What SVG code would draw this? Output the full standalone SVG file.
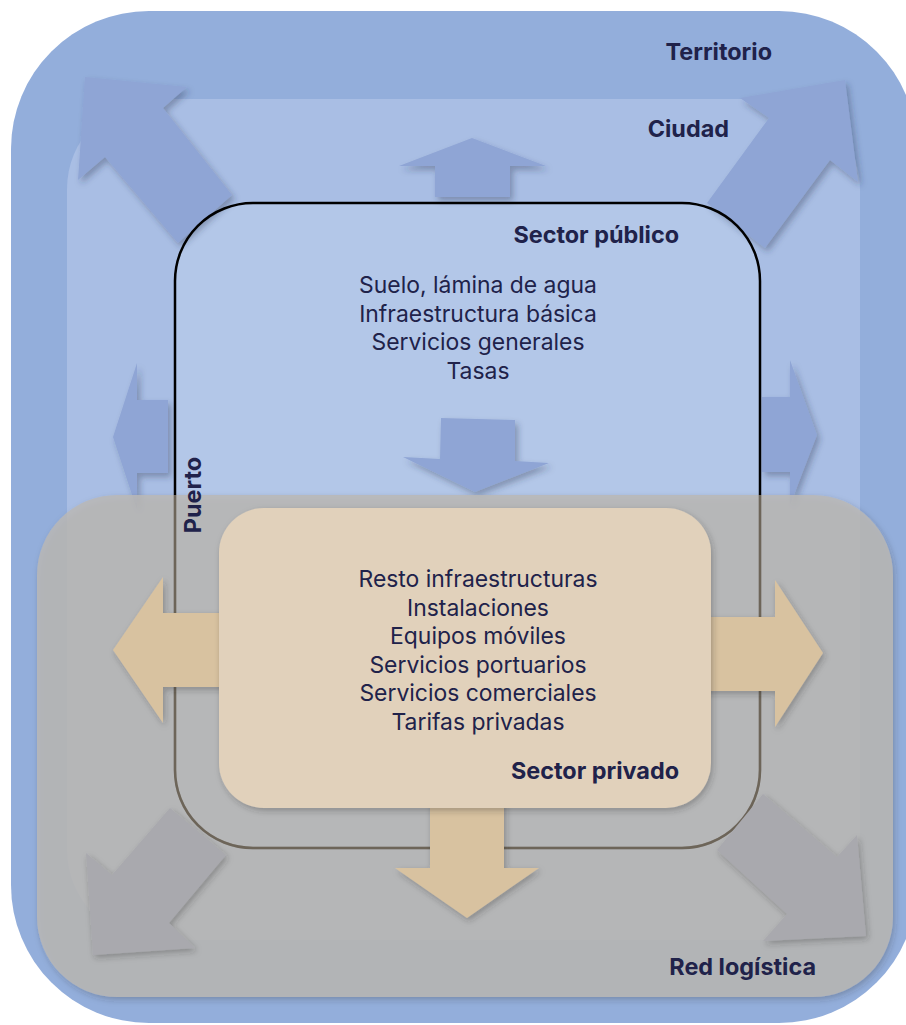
<svg xmlns="http://www.w3.org/2000/svg" width="906" height="1025" viewBox="0 0 906 1025">
<defs>
<filter id="sh" x="-20%" y="-20%" width="150%" height="150%">
<feDropShadow dx="3" dy="4" stdDeviation="3" flood-color="#2a3150" flood-opacity="0.35"/>
</filter>
<filter id="shs" x="-10%" y="-10%" width="130%" height="130%">
<feDropShadow dx="2" dy="3" stdDeviation="3" flood-color="#333" flood-opacity="0.3"/>
</filter>
<clipPath id="low"><rect x="0" y="495" width="906" height="530"/></clipPath>
<style>
.lbl{font-family:Inter,"Liberation Sans",sans-serif;font-weight:700;font-size:23.4px;fill:#20224a}
.txt{font-family:Inter,"Liberation Sans",sans-serif;font-size:22.9px;fill:#20224a;text-anchor:middle}
.ba{fill:#8fa5d5;filter:url(#sh)}
.ga{fill:#a9a9ae;filter:url(#shs)}
.pa{fill:#d8c2a0;filter:url(#shs)}
</style>
</defs>
<g id="territorio">
<rect x="11" y="11" width="906" height="1012" rx="138" fill="#93aedb"/>
</g>
<g id="ciudad">
<rect x="67" y="99" width="793" height="841" rx="90" fill="#a9bee4"/>
</g>
<g id="puerto-fill">
<rect x="175" y="203" width="585" height="645" rx="78" fill="#b3c7e8"/>
</g>
<g id="connectors-blue">
<polygon class="ba" points="85,77 187,87 163,108 232,195 178,243 105,157 78,180"/>
<polygon class="ba" points="845,80 740,98 769,118 707,203 765,248 830,160 858,182"/>
<polygon class="ba" points="472,138 546,166 510,166 510,197 435,197 435,166 399,166"/>
<polygon class="ba" points="113,437 137,363 137,400 168,400 168,473 137,473 137,510"/>
<polygon class="ba" points="817,435 790,360 790,397 762,397 762,472 790,472 790,505"/>
<polygon class="ba" points="441,418 515,420 515,461 549,463 475,492 403,457 440,459"/>
</g>
<g id="puerto">
<rect x="175" y="203" width="585" height="645" rx="78" fill="none" stroke="#000" stroke-width="2.5"/>
</g>
<g id="red-logistica">
<rect x="37" y="495" width="856" height="502" rx="80" fill="#bbb8b4" fill-opacity="0.82" filter="url(#shs)"/>
</g>
<g id="puerto-outline-low" clip-path="url(#low)">
<rect x="175" y="203" width="585" height="645" rx="78" fill="none" stroke="#6d6559" stroke-width="2.5"/>
</g>
<g id="connectors-grey">
<polygon class="ga" points="93,955 86,853 112,875 170,808 226,855 169,923 195,948"/>
<polygon class="ga" points="866,936 857,835 837,857 763,794 717,850 787,914 763,941"/>
</g>
<g id="connectors-beige">
<polygon class="pa" points="113,650 163,577 163,613 230,613 230,687 163,687 163,723"/>
<polygon class="pa" points="823,653 775,580 775,617 700,617 700,691 775,691 775,727"/>
<polygon class="pa" points="430,798 504,798 504,868 539,868 467,918 395,868 430,868"/>
</g>
<g id="sector-privado">
<rect x="219" y="508" width="492" height="300" rx="45" fill="#e1d1bb" filter="url(#shs)"/>
<text class="txt" x="478" y="587">Resto infraestructuras</text>
<text class="txt" x="478" y="615.5">Instalaciones</text>
<text class="txt" x="478" y="644">Equipos móviles</text>
<text class="txt" x="478" y="672.5">Servicios portuarios</text>
<text class="txt" x="478" y="701">Servicios comerciales</text>
<text class="txt" x="478" y="729.5">Tarifas privadas</text>
<text class="lbl" x="679" y="779" text-anchor="end">Sector privado</text>
</g>
<g id="sector-publico">
<text class="lbl" x="679" y="243" text-anchor="end">Sector público</text>
<text class="txt" x="478" y="293">Suelo, lámina de agua</text>
<text class="txt" x="478" y="321.5">Infraestructura básica</text>
<text class="txt" x="478" y="350">Servicios generales</text>
<text class="txt" x="478" y="378.5">Tasas</text>
</g>
<g id="labels">
<text class="lbl" x="772" y="60" text-anchor="end">Territorio</text>
<text class="lbl" x="729" y="137" text-anchor="end">Ciudad</text>
<text class="lbl" x="816" y="975" text-anchor="end">Red logística</text>
<text class="lbl" x="201" y="495" text-anchor="middle" transform="rotate(-90 201 495)">Puerto</text>
</g>
</svg>
